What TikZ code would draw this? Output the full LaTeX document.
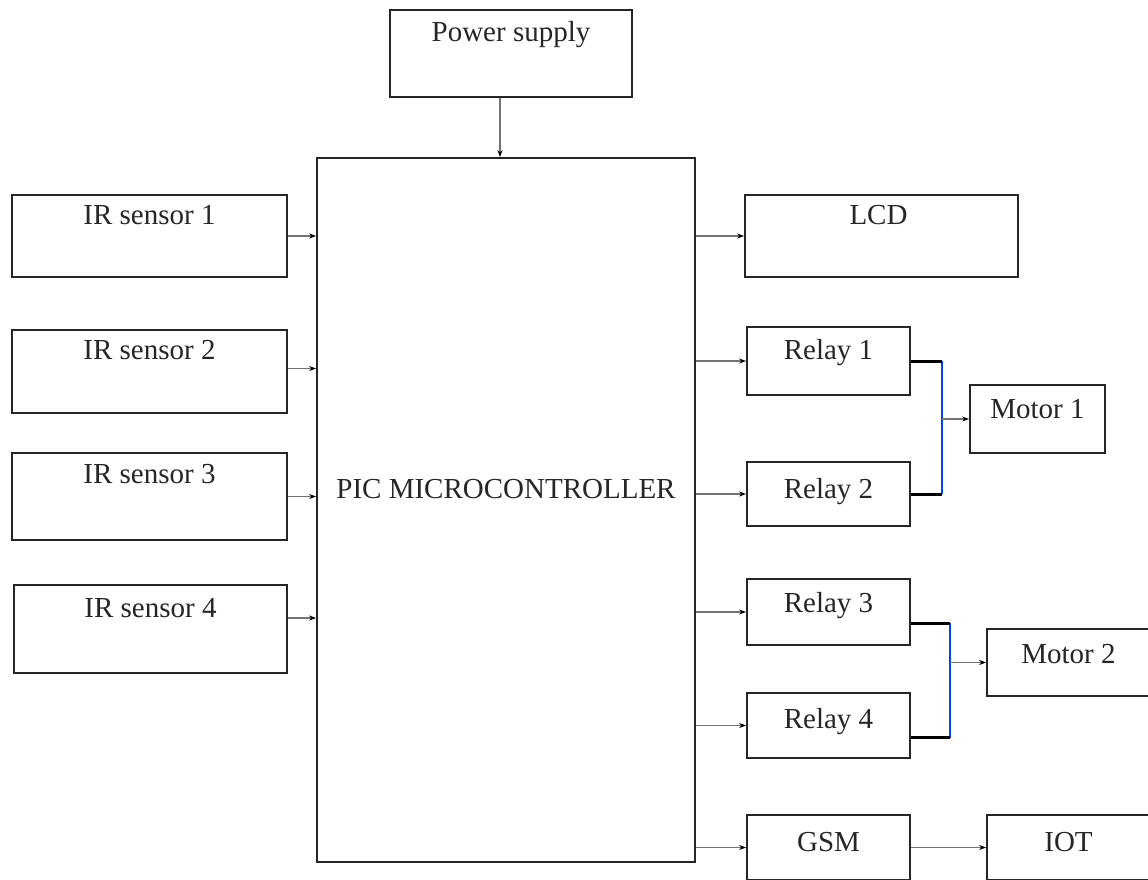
\documentclass[tikz,border=0pt]{standalone}
\usepackage{fontspec}
\setmainfont{Liberation Serif}
\usetikzlibrary{arrows.meta,calc}
\begin{document}
\begin{tikzpicture}[x=1pt,y=-1pt,
 box/.style={draw=black!85,line width=1.8pt,inner sep=0pt},
 lbl/.style={anchor=base,inner sep=0pt,font=\fontsize{29}{34}\selectfont,text=black!85},
 arr/.style={draw=black!55,line width=1.6pt,-{Stealth[length=7pt,width=5pt,black]}},
 link/.style={draw=black,line width=3pt},
 bus/.style={draw=blue!70!cyan!90!black,line width=1.6pt}]
\clip (0,0) rectangle (1148,879);
\fill[white] (0,0) rectangle (1148,879);
% boxes
\node[box,minimum width=242pt,minimum height=87pt] (power) at (511,53.5) {};
\node[box,minimum width=378pt,minimum height=704pt] (pic) at (506,510) {};
\node[box,minimum width=275pt,minimum height=82pt] (ir1) at (149.5,236) {};
\node[box,minimum width=275pt,minimum height=83pt] (ir2) at (149.5,371.5) {};
\node[box,minimum width=275pt,minimum height=87pt] (ir3) at (149.5,496.5) {};
\node[box,minimum width=273pt,minimum height=88pt] (ir4) at (150.5,629) {};
\node[box,minimum width=273pt,minimum height=82pt] (lcd) at (881.5,236) {};
\node[box,minimum width=163pt,minimum height=68pt] (r1) at (828.5,361) {};
\node[box,minimum width=163pt,minimum height=64pt] (r2) at (828.5,494) {};
\node[box,minimum width=135pt,minimum height=68pt] (m1) at (1037.5,419) {};
\node[box,minimum width=163pt,minimum height=66pt] (r3) at (828.5,612) {};
\node[box,minimum width=163pt,minimum height=65pt] (r4) at (828.5,725.5) {};
\node[box,minimum width=163pt,minimum height=67pt] (m2) at (1068.5,662.5) {};
\node[box,minimum width=163pt,minimum height=65pt] (gsm) at (828.5,847.5) {};
\node[box,minimum width=163pt,minimum height=65pt] (iot) at (1068.5,847.5) {};
% labels
\node[lbl] (power-t) at ($(power.north)+(0,32)$) {Power supply};
\node[lbl] (pic-t) at ($(pic.center)+(0,-12)$) {PIC MICROCONTROLLER};
\node[lbl] (ir1-t) at ($(ir1.north)+(0,30)$) {IR sensor 1};
\node[lbl] (ir2-t) at ($(ir2.north)+(0,30)$) {IR sensor 2};
\node[lbl] (ir3-t) at ($(ir3.north)+(0,31)$) {IR sensor 3};
\node[lbl] (ir4-t) at ($(ir4.north)+(0,33)$) {IR sensor 4};
\node[lbl] (lcd-t) at ($(lcd.north)+(-3,30)$) {LCD};
\node[lbl] (r1-t) at ($(r1.north)+(0,33)$) {Relay 1};
\node[lbl] (r2-t) at ($(r2.north)+(0,37)$) {Relay 2};
\node[lbl] (m1-t) at ($(m1.north)+(0,34)$) {Motor 1};
\node[lbl] (r3-t) at ($(r3.north)+(0,34)$) {Relay 3};
\node[lbl] (r4-t) at ($(r4.north)+(0,36)$) {Relay 4};
\node[lbl] (m2-t) at ($(m2.north)+(0,35)$) {Motor 2};
\node[lbl] (gsm-t) at ($(gsm.north)+(0,37)$) {GSM};
\node[lbl] (iot-t) at ($(iot.north)+(0,37)$) {IOT};
% connectors
\draw[arr] ([xshift=-11pt]power.south) -- ([xshift=-11pt]power.south |- pic.north);
\draw[arr] (ir1.east) -- (ir1.east -| pic.west);
\draw[arr] ([yshift=3pt]ir2.east) -- ([yshift=3pt]ir2.east -| pic.west);
\draw[arr] (ir3.east) -- (ir3.east -| pic.west);
\draw[arr] ([yshift=11pt]ir4.east) -- ([yshift=11pt]ir4.east -| pic.west);
\draw[arr] (lcd.west -| pic.east) -- (lcd.west);
\draw[arr] (r1.west -| pic.east) -- (r1.west);
\draw[arr] (r2.west -| pic.east) -- (r2.west);
\draw[arr] (r3.west -| pic.east) -- (r3.west);
\draw[arr] (r4.west -| pic.east) -- (r4.west);
\draw[arr] (gsm.west -| pic.east) -- (gsm.west);
\draw[arr] (gsm.east) -- (iot.west);
% relay to motor 1
\coordinate (j1) at ($(r1.east)+(31,0)$);
\coordinate (j2) at ($(r2.east)+(31,0)$);
\draw[bus] (j1) -- (j2);
\draw[link] (r1.east) -- (j1);
\draw[link] (r2.east) -- (j2);
\draw[arr] (j1 |- m1.west) -- (m1.west);
% relay to motor 2
\coordinate (j3) at ($(r3.east)+(39,11)$);
\coordinate (j4) at ($(r4.east)+(39,12)$);
\draw[bus] (j3) -- (j4);
\draw[link] ([yshift=-11pt]r3.east) -- (j3);
\draw[link] ([yshift=-12pt]r4.east) -- (j4);
\draw[arr] (j3 |- m2.west) -- (m2.west);
\end{tikzpicture}
\end{document}
